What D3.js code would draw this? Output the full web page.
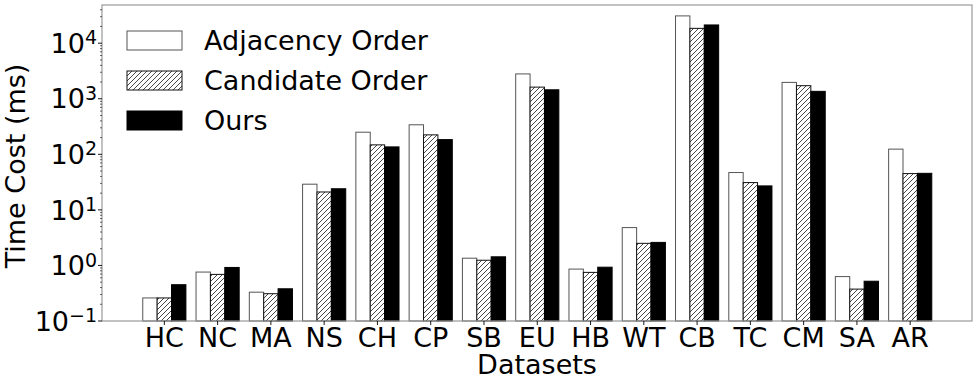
<!DOCTYPE html>
<html>
<head>
<meta charset="utf-8">
<script src="https://cdn.jsdelivr.net/npm/d3@7"></script>
<style>
  body { margin: 0; background: #fff; }
  text { font-family: "DejaVu Sans", sans-serif; fill: #000; }
</style>
</head>
<body>
<div id="chart"></div>
<script>
const width = 977;
const height = 387;

// data
const datasets = ["HC", "NC", "MA", "NS", "CH", "CP", "SB", "EU", "HB", "WT", "CB", "TC", "CM", "SA", "AR"];
const seriesNames = ["Adjacency Order", "Candidate Order", "Ours"];
const adjacency = [0.26, 0.76, 0.33, 29, 250, 340, 1.35, 2800, 0.86, 4.8, 31000, 47, 1970, 0.63, 124];
const candidate = [0.26, 0.69, 0.31, 21, 148, 224, 1.24, 1620, 0.75, 2.5, 18500, 31, 1720, 0.375, 45];
const ours = [0.45, 0.92, 0.38, 24, 136, 184, 1.43, 1450, 0.93, 2.6, 21300, 27, 1360, 0.52, 45.5];
const yTickValues = [0.1, 1, 10, 100, 1000, 10000];

const margin = { top: 5, right: 5, bottom: 66, left: 102 };
const innerW = width - margin.left - margin.right;
const innerH = height - margin.top - margin.bottom;

const svg = d3.select("#chart").append("svg")
  .attr("width", width)
  .attr("height", height);

const defs = svg.append("defs");
const pattern = defs.append("pattern")
  .attr("id", "hatch")
  .attr("patternUnits", "userSpaceOnUse")
  .attr("width", 5)
  .attr("height", 5);
pattern.append("rect").attr("width", 5).attr("height", 5).attr("fill", "#fff");
pattern.append("path")
  .attr("d", "M-1,1 l2,-2 M0,5 l5,-5 M4,6 l2,-2")
  .attr("stroke", "#333")
  .attr("stroke-width", 0.9);

const g = svg.append("g").attr("transform", `translate(${margin.left},${margin.top})`);

// linear x in category units, like matplotlib
const x = d3.scaleLinear().domain([-1.17, 15.16]).range([0, innerW]);
const barW = 0.27;
const y = d3.scaleLog().domain([0.1, 48700]).range([innerH, 0]);

const series = [
  { name: seriesNames[0], values: adjacency, fill: "#fff", stroke: "#555", offset: -barW },
  { name: seriesNames[1], values: candidate, fill: "url(#hatch)", stroke: "#111", offset: 0 },
  { name: seriesNames[2], values: ours, fill: "#000", stroke: "#000", offset: barW }
];

series.forEach(function (s) {
  g.append("g").selectAll("rect")
    .data(s.values)
    .enter().append("rect")
    .attr("x", (d, i) => x(i + s.offset - barW / 2))
    .attr("width", x(barW) - x(0))
    .attr("y", d => y(d))
    .attr("height", d => innerH - y(d))
    .attr("fill", s.fill)
    .attr("stroke", s.stroke)
    .attr("stroke-width", 1);
});

// frame
g.append("rect")
  .attr("width", innerW)
  .attr("height", innerH)
  .attr("fill", "none")
  .attr("stroke", "#999")
  .attr("stroke-width", 1.2);

// y axis with minor ticks
const minorTicks = [];
for (let e = -1; e <= 4; e++) {
  for (let m = 2; m <= 9; m++) {
    const v = m * Math.pow(10, e);
    if (v <= y.domain()[1]) minorTicks.push(v);
  }
}
g.append("g").selectAll("line")
  .data(minorTicks)
  .enter().append("line")
  .attr("x1", -2).attr("x2", 0)
  .attr("y1", d => y(d)).attr("y2", d => y(d))
  .attr("stroke", "#000").attr("stroke-width", 0.6);

const supers = { "-1": "\u22121", "0": "0", "1": "1", "2": "2", "3": "3", "4": "4" };
const yTicks = g.append("g").selectAll("g")
  .data(yTickValues)
  .enter().append("g")
  .attr("transform", d => `translate(0,${y(d)})`);
yTicks.append("line").attr("x1", -4).attr("x2", 0).attr("stroke", "#000").attr("stroke-width", 0.9);
const yt = yTicks.append("text")
  .attr("x", -5)
  .attr("dy", "0.36em")
  .attr("text-anchor", "end")
  .style("font-size", "27px");
yt.append("tspan").text("10");
yt.append("tspan")
  .attr("dy", "-0.45em")
  .style("font-size", "19px")
  .text(d => supers[String(Math.round(Math.log10(d)))]);

// x axis ticks
const xTicks = g.append("g").selectAll("g")
  .data(datasets)
  .enter().append("g")
  .attr("transform", (d, i) => `translate(${x(i)},${innerH})`);
xTicks.append("line").attr("y2", 4).attr("stroke", "#000").attr("stroke-width", 0.9);
xTicks.append("text")
  .attr("y", 26)
  .attr("text-anchor", "middle")
  .style("font-size", "27px")
  .text(d => d);

// axis titles
svg.append("text")
  .attr("x", margin.left + innerW / 2)
  .attr("y", 374)
  .attr("text-anchor", "middle")
  .style("font-size", "27px")
  .text("Datasets");

svg.append("text")
  .attr("transform", "translate(25,166) rotate(-90)")
  .attr("text-anchor", "middle")
  .style("font-size", "27px")
  .text("Time Cost (ms)");

// legend
const legend = g.append("g").attr("transform", "translate(25,26)");
const item = legend.selectAll("g")
  .data(series)
  .enter().append("g")
  .attr("transform", (d, i) => `translate(0,${i * 40})`);
item.append("rect")
  .attr("width", 55)
  .attr("height", 19)
  .attr("fill", d => d.fill)
  .attr("stroke", d => d.stroke)
  .attr("stroke-width", 1);
item.append("text")
  .attr("x", 77)
  .attr("y", 9.5)
  .attr("dy", "0.36em")
  .style("font-size", "27px")
  .text(d => d.name);
</script>
</body>
</html>
